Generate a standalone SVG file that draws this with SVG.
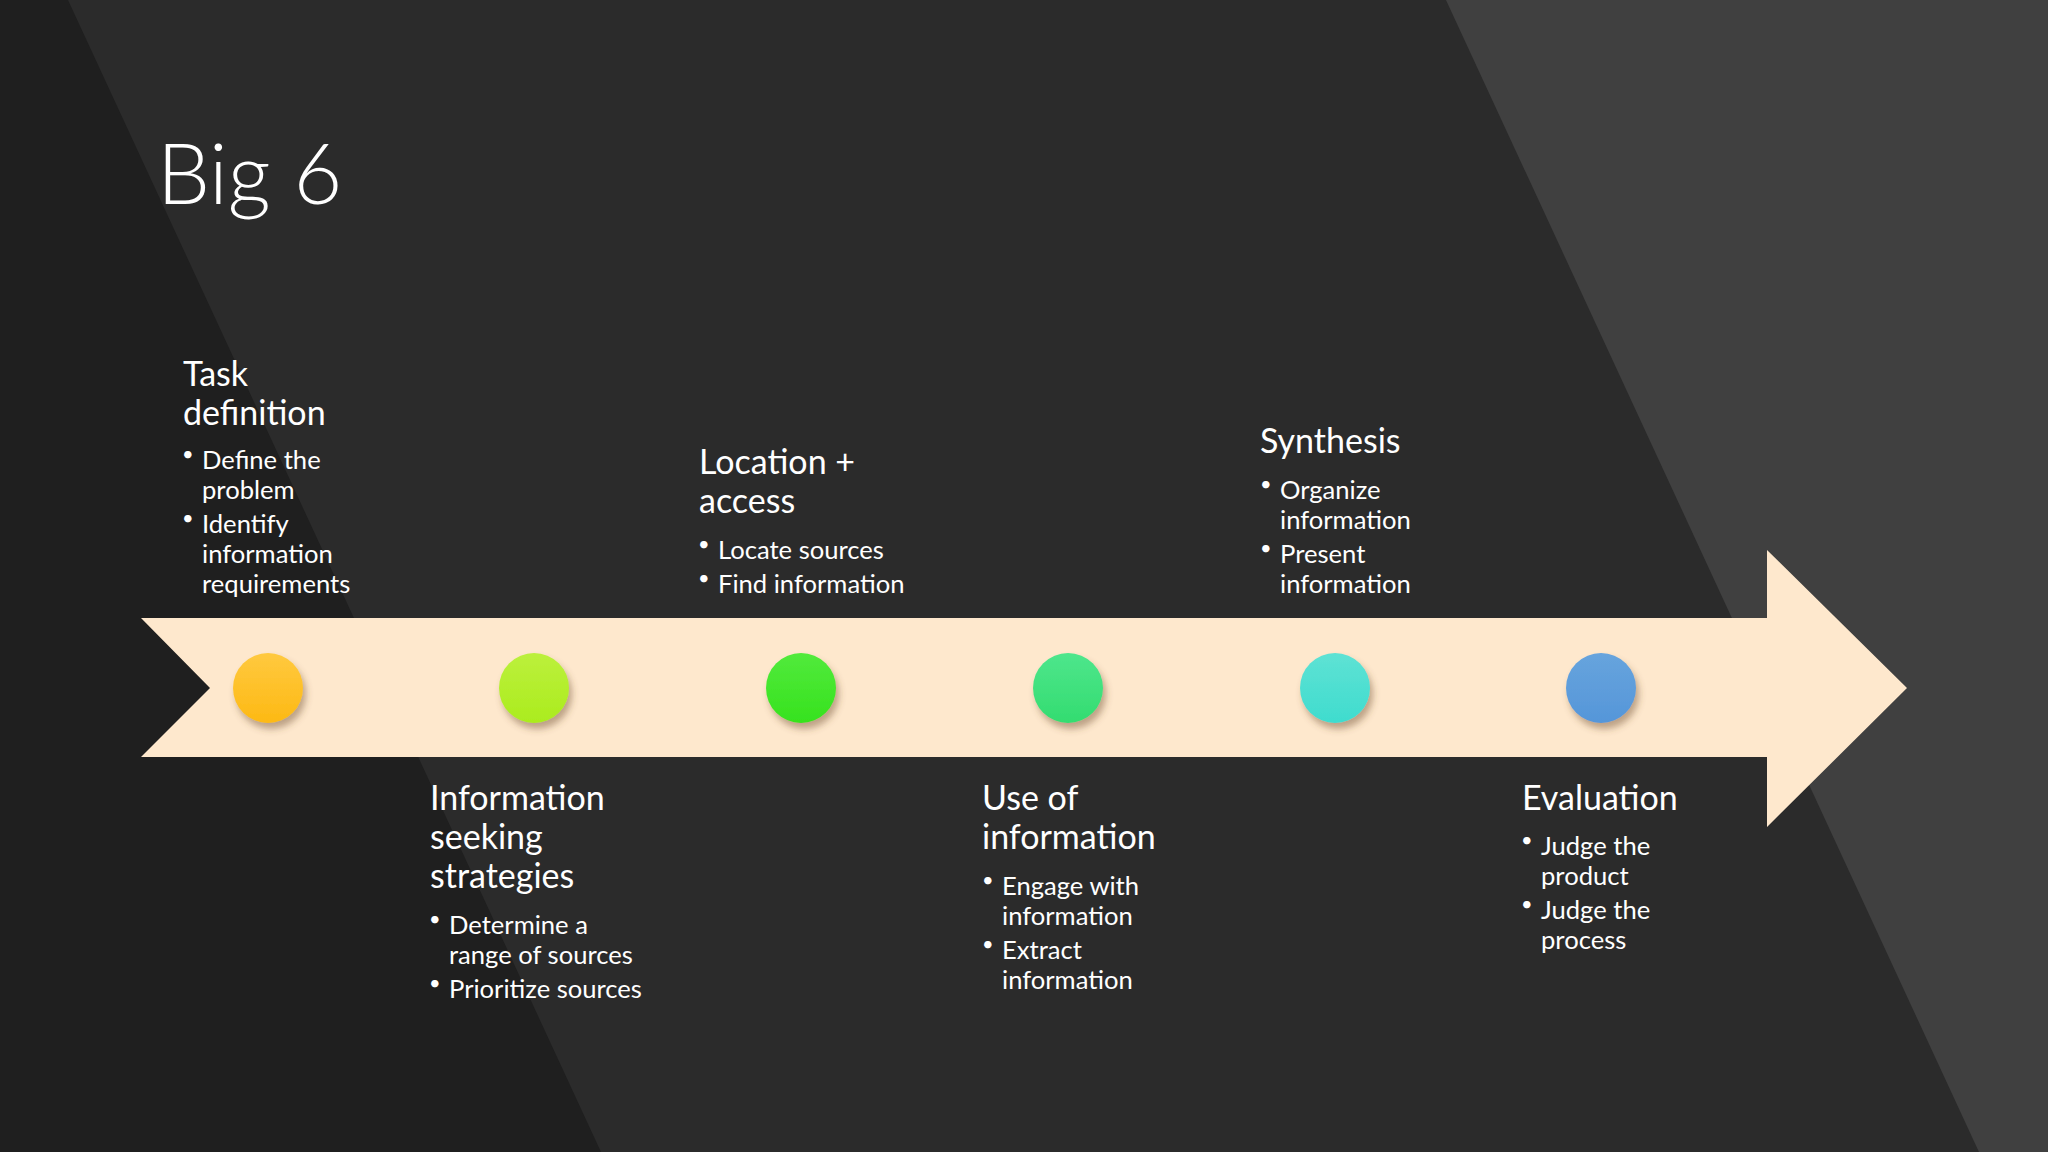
<svg xmlns="http://www.w3.org/2000/svg" width="2048" height="1152" viewBox="0 0 2048 1152">
  <defs>
    <style>
      .title { font-family: Lato, "Liberation Sans", sans-serif; font-weight: 300; font-size: 84px; fill: #ffffff; }
      .head { font-family: Lato, "Liberation Sans", sans-serif; font-size: 34px; fill: #ffffff; }
      .item { font-family: Lato, "Liberation Sans", sans-serif; font-size: 25.6px; fill: #ffffff; }
      .dot { font-family: Lato, "Liberation Sans", sans-serif; font-size: 20px; fill: #ffffff; }
    </style>
    <filter id="shadow" x="-50%" y="-50%" width="200%" height="200%">
      <feDropShadow dx="3" dy="6" stdDeviation="3.5" flood-color="#6b4a2a" flood-opacity="0.45"/>
    </filter>
    <linearGradient id="g1" x1="0" y1="0" x2="0" y2="1"><stop offset="0" stop-color="#ffc93f"/><stop offset="1" stop-color="#fdb914"/></linearGradient>
    <linearGradient id="g2" x1="0" y1="0" x2="0" y2="1"><stop offset="0" stop-color="#bcf03c"/><stop offset="1" stop-color="#abec1e"/></linearGradient>
    <linearGradient id="g3" x1="0" y1="0" x2="0" y2="1"><stop offset="0" stop-color="#52ea3c"/><stop offset="1" stop-color="#36e21e"/></linearGradient>
    <linearGradient id="g4" x1="0" y1="0" x2="0" y2="1"><stop offset="0" stop-color="#4ee68c"/><stop offset="1" stop-color="#33dc70"/></linearGradient>
    <linearGradient id="g5" x1="0" y1="0" x2="0" y2="1"><stop offset="0" stop-color="#5ee2d4"/><stop offset="1" stop-color="#3fdcce"/></linearGradient>
    <linearGradient id="g6" x1="0" y1="0" x2="0" y2="1"><stop offset="0" stop-color="#67a4dd"/><stop offset="1" stop-color="#5596d9"/></linearGradient>
  </defs>

  <g id="background">
    <rect x="0" y="0" width="2048" height="1152" fill="#2b2b2b"/>
    <polygon points="0,0 68,0 601,1152 0,1152" fill="#1f1f1f"/>
    <polygon points="1446,0 2048,0 2048,1152 1979,1152" fill="#404040"/>
  </g>

  <g id="title">
    <text class="title" x="157" y="204">Big 6</text>
  </g>

  <g id="connectors">
    <polygon id="timeline-arrow" points="141,618 1767,618 1767,550 1907,688 1767,827 1767,757 141,757 210,688" fill="#fee8cd"/>
  </g>

  <g id="node-task-definition">
    <circle cx="268" cy="688" r="35" fill="url(#g1)" filter="url(#shadow)"/>
    <text class="head" x="183" y="386">Task</text>
    <text class="head" x="183" y="425">definition</text>
    <text class="dot" x="182" y="461">•</text>
    <text class="item" x="202" y="469">Define the</text>
    <text class="item" x="202" y="499">problem</text>
    <text class="dot" x="182" y="525">•</text>
    <text class="item" x="202" y="533">Identify</text>
    <text class="item" x="202" y="563">information</text>
    <text class="item" x="202" y="593">requirements</text>
  </g>

  <g id="node-information-seeking">
    <circle cx="534" cy="688" r="35" fill="url(#g2)" filter="url(#shadow)"/>
    <text class="head" x="430" y="810">Information</text>
    <text class="head" x="430" y="849">seeking</text>
    <text class="head" x="430" y="888">strategies</text>
    <text class="dot" x="429" y="926">•</text>
    <text class="item" x="449" y="934">Determine a</text>
    <text class="item" x="449" y="964">range of sources</text>
    <text class="dot" x="429" y="990">•</text>
    <text class="item" x="449" y="998">Prioritize sources</text>
  </g>

  <g id="node-location-access">
    <circle cx="801" cy="688" r="35" fill="url(#g3)" filter="url(#shadow)"/>
    <text class="head" x="699" y="474">Location +</text>
    <text class="head" x="699" y="513">access</text>
    <text class="dot" x="698" y="551">•</text>
    <text class="item" x="718" y="559">Locate sources</text>
    <text class="dot" x="698" y="585">•</text>
    <text class="item" x="718" y="593">Find information</text>
  </g>

  <g id="node-use-of-information">
    <circle cx="1068" cy="688" r="35" fill="url(#g4)" filter="url(#shadow)"/>
    <text class="head" x="982" y="810">Use of</text>
    <text class="head" x="982" y="849">information</text>
    <text class="dot" x="982" y="887">•</text>
    <text class="item" x="1002" y="895">Engage with</text>
    <text class="item" x="1002" y="925">information</text>
    <text class="dot" x="982" y="951">•</text>
    <text class="item" x="1002" y="959">Extract</text>
    <text class="item" x="1002" y="989">information</text>
  </g>

  <g id="node-synthesis">
    <circle cx="1335" cy="688" r="35" fill="url(#g5)" filter="url(#shadow)"/>
    <text class="head" x="1260" y="453">Synthesis</text>
    <text class="dot" x="1260" y="491">•</text>
    <text class="item" x="1280" y="499">Organize</text>
    <text class="item" x="1280" y="529">information</text>
    <text class="dot" x="1260" y="555">•</text>
    <text class="item" x="1280" y="563">Present</text>
    <text class="item" x="1280" y="593">information</text>
  </g>

  <g id="node-evaluation">
    <circle cx="1601" cy="688" r="35" fill="url(#g6)" filter="url(#shadow)"/>
    <text class="head" x="1522" y="810">Evaluation</text>
    <text class="dot" x="1521" y="847">•</text>
    <text class="item" x="1541" y="855">Judge the</text>
    <text class="item" x="1541" y="885">product</text>
    <text class="dot" x="1521" y="911">•</text>
    <text class="item" x="1541" y="919">Judge the</text>
    <text class="item" x="1541" y="949">process</text>
  </g>
</svg>
